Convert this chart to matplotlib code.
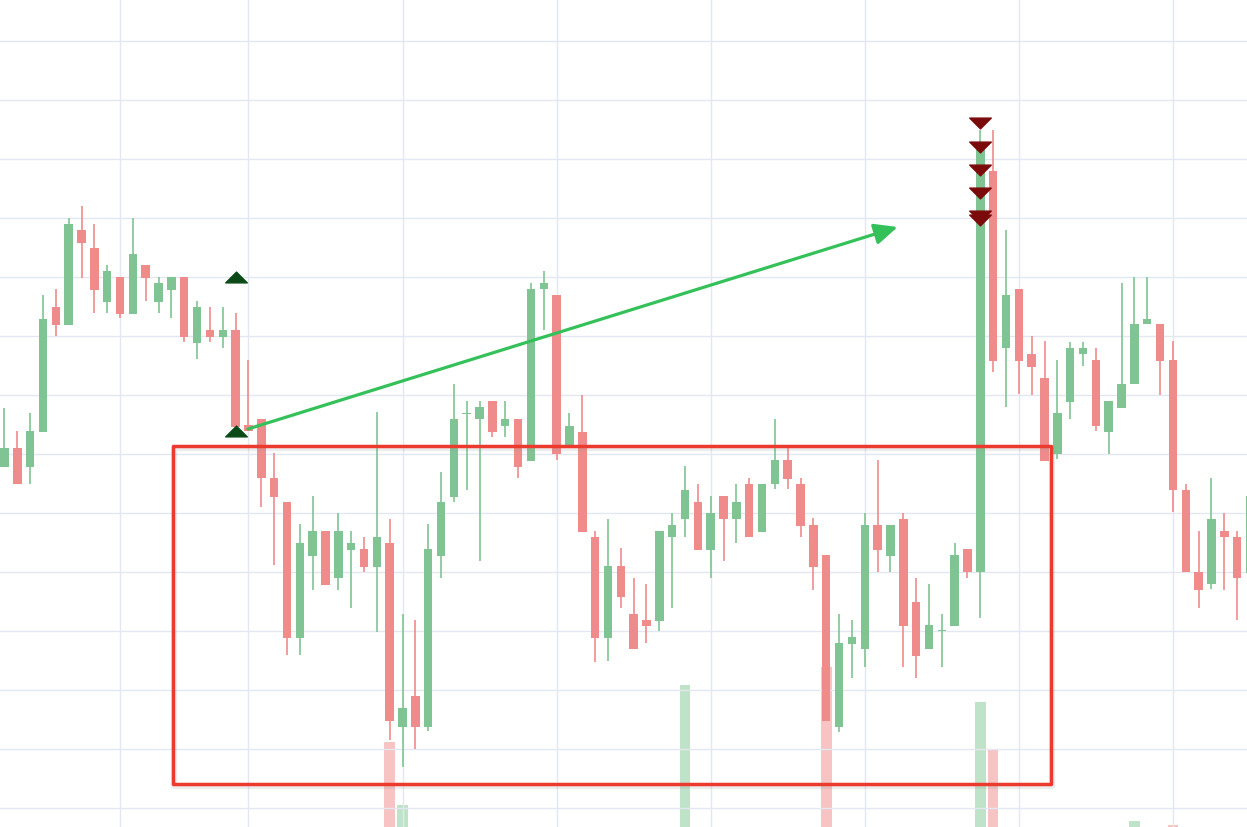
import numpy as np
import matplotlib
matplotlib.use("Agg")
import matplotlib.pyplot as plt
from matplotlib.patches import Rectangle
from matplotlib.path import Path
from matplotlib.transforms import offset_copy

# ---------------- data ----------------
opens = [533, 552, 533, 568, 693, 675, 770, 752, 698, 723,
         686, 735, 698, 710, 723, 657, 670, 663, 670, 575,
         581, 522, 498, 362, 444, 469, 422, 450, 451, 433,
         457, 273, 304, 273, 444, 503, 586, 581, 599, 574,
         581, 539, 711, 705, 555, 568, 463, 362, 434, 386,
         380, 379, 463, 481, 498, 450, 504, 481, 516, 468,
         516, 540, 516, 475, 445, 273, 356, 351, 475, 444,
         481, 398, 351, 369, 374, 451, 428, 829, 652, 711,
         646, 622, 546, 598, 646, 640, 568, 592, 616, 676,
         676, 640, 510, 428, 416, 469, 463, 427]
highs = [592, 569, 587, 705, 711, 782, 794, 776, 735, 723,
         782, 735, 723, 723, 723, 699, 693, 693, 687, 640,
         581, 547, 498, 476, 504, 469, 487, 469, 463, 588,
         481, 386, 380, 476, 528, 616, 599, 599, 599, 599,
         581, 717, 729, 705, 587, 605, 469, 481, 452, 422,
         416, 469, 487, 534, 516, 504, 504, 516, 522, 516,
         581, 552, 522, 482, 445, 386, 380, 487, 540, 475,
         487, 422, 416, 386, 457, 451, 870, 870, 770, 711,
         664, 659, 640, 658, 658, 652, 599, 717, 723, 723,
         676, 659, 516, 469, 522, 487, 469, 510]
lows = [533, 516, 516, 568, 664, 675, 722, 687, 687, 682,
        686, 699, 687, 682, 658, 641, 658, 652, 573, 569,
        493, 435, 345, 345, 410, 415, 410, 392, 428, 368,
        260, 233, 251, 269, 422, 498, 510, 439, 563, 563,
        522, 539, 670, 540, 555, 468, 338, 339, 392, 351,
        357, 369, 392, 463, 450, 422, 439, 457, 463, 468,
        511, 511, 463, 410, 279, 268, 322, 333, 428, 428,
        333, 322, 351, 333, 374, 422, 382, 628, 593, 606,
        605, 539, 541, 581, 634, 569, 546, 592, 616, 676,
        605, 488, 428, 392, 411, 410, 380, 420]
closes = [552, 516, 569, 681, 675, 776, 757, 710, 729, 686,
          746, 722, 717, 723, 663, 693, 663, 670, 573, 569,
          522, 503, 362, 457, 469, 415, 469, 457, 433, 463,
          279, 292, 273, 451, 498, 581, 587, 593, 568, 581,
          533, 711, 717, 546, 574, 468, 362, 434, 403, 351,
          374, 469, 475, 510, 450, 487, 481, 498, 463, 516,
          540, 521, 474, 433, 279, 357, 363, 475, 450, 475,
          374, 344, 375, 370, 445, 428, 852, 639, 705, 639,
          633, 539, 587, 652, 652, 574, 599, 616, 676, 681,
          639, 510, 428, 410, 481, 463, 422, 504]

# volume bars that reach into the visible area
vol_index = [30, 31, 53, 64, 76, 77, 88, 91]
vol_value = [2850, 2220, 3420, 3600, 3250, 2780, 2060, 2020]

# signal markers
buy_index = [18, 18]
buy_price = [723, 569]
sell_index = [76, 76, 76, 76, 76, 76]
sell_price = [877, 853, 830, 807, 784, 780]

# trend arrow (start / end)
arrow_index = [18.96, 69.56]
arrow_price = [571, 773]

# highlighted zone
zone_index = [13.12, 81.5]
zone_price = [216, 554]

# grid positions
xgrid = [9, 19, 31, 43, 55, 67, 79, 91]
ygrid = [192, 251, 310, 369, 428, 487, 546, 605, 664, 723, 782, 841, 900, 959]

# ---------------- styling ----------------
UP = "#80c493"
DOWN = "#f08b8b"
UP_VOL = "#bfe3c9"
DOWN_VOL = "#f7c3c3"
GRID = "#e3e7f1"

fig = plt.figure(figsize=(12.47, 8.27), dpi=100, facecolor="white")
ax = fig.add_axes([0, 0, 1, 1])
axv = ax.twinx()
ax.set_zorder(axv.get_zorder() + 1)
ax.patch.set_visible(False)

o = np.array(opens, float)
h = np.array(highs, float)
l = np.array(lows, float)
c = np.array(closes, float)
x = np.arange(len(o))
up = c >= o
cols = np.where(up, UP, DOWN)

# volume
vcols = [UP_VOL if up[i] else DOWN_VOL for i in vol_index]
axv.bar(vol_index, vol_value, width=0.83, color=vcols, linewidth=0)
axv.set_ylim(2000, 10270)
axv.axis("off")

# grid
for gx in xgrid:
    ax.axvline(gx, color=GRID, lw=1.0, zorder=0)
for gy in ygrid:
    ax.axhline(gy, color=GRID, lw=1.0, zorder=0)

# wicks
ax.vlines(x, l, h, colors=cols, linewidth=1.2, zorder=2)
# bodies
bottoms = np.minimum(o, c)
heights = np.maximum(np.abs(c - o), 1.5)
ax.bar(x, heights, bottom=bottoms, width=0.66, color=cols, linewidth=0, zorder=3)

# markers
tri_up = Path([(-1, -0.5), (1, -0.5), (0, 0.5), (-1, -0.5)],
              [Path.MOVETO, Path.LINETO, Path.LINETO, Path.CLOSEPOLY])
tri_dn = Path([(-1, 0.5), (1, 0.5), (0, -0.5), (-1, 0.5)],
              [Path.MOVETO, Path.LINETO, Path.LINETO, Path.CLOSEPOLY])
ax.plot(buy_index, buy_price, linestyle="none", marker=tri_up, markersize=15.5,
        color="#0b4a18", zorder=5)
ax.plot(sell_index, sell_price, linestyle="none", marker=tri_dn, markersize=15.5,
        color="#7b0a0a", zorder=5)

# arrow
ax.annotate("", xy=(arrow_index[1], arrow_price[1]),
            xytext=(arrow_index[0], arrow_price[0]),
            arrowprops=dict(arrowstyle="-|>,head_length=0.7,head_width=0.32",
                            color="#35c159", lw=2.3, mutation_scale=20,
                            shrinkA=0, shrinkB=0),
            zorder=6)

# highlighted zone (with faint shadow)
shadow_tr = offset_copy(ax.transData, fig=fig, x=1.0, y=-2.0, units="dots")
shadow = Rectangle((zone_index[0], zone_price[0]), zone_index[1] - zone_index[0],
                   zone_price[1] - zone_price[0], fill=False, edgecolor="#999999",
                   alpha=0.18, linewidth=4.5, joinstyle="round", transform=shadow_tr,
                   zorder=6.5)
ax.add_patch(shadow)
rect = Rectangle((zone_index[0], zone_price[0]), zone_index[1] - zone_index[0],
                 zone_price[1] - zone_price[0], fill=False, edgecolor="#ec3a2e",
                 linewidth=2.5, joinstyle="round", zorder=7)
ax.add_patch(rect)

ax.set_xlim(-0.35, 96.77)
ax.set_ylim(173, 1000)
for s in ax.spines.values():
    s.set_visible(False)
ax.set_xticks([])
ax.set_yticks([])

fig.savefig("out.png", dpi=100, facecolor="white")
